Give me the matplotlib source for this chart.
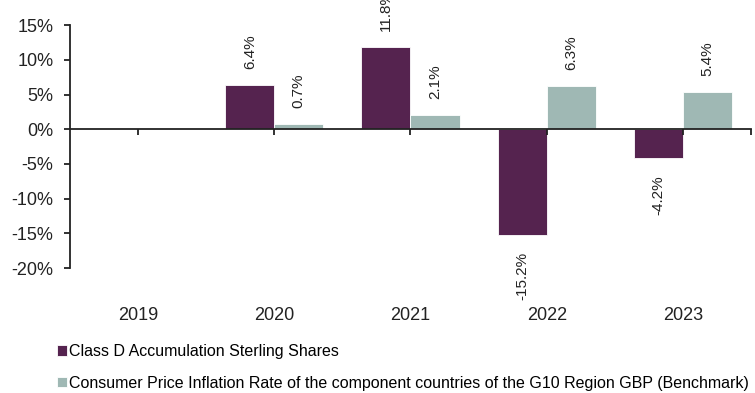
import matplotlib

matplotlib.use("Agg")
import matplotlib.pyplot as plt
import numpy as np

plt.rcParams["font.family"] = ["Liberation Sans", "DejaVu Sans"]

# Calendar-year returns (%)
years = ["2019", "2020", "2021", "2022", "2023"]
fund = [np.nan, 6.4, 11.8, -15.2, -4.2]
benchmark = [np.nan, 0.7, 2.1, 6.3, 5.4]
fund_name = "Class D Accumulation Sterling Shares"
bench_name = ("Consumer Price Inflation Rate of the component countries "
              "of the G10 Region GBP (Benchmark)")

PURPLE = "#55234f"
TEAL = "#9fb8b4"
INK = "#222222"

fig = plt.figure(figsize=(7.55, 3.93), dpi=100)
ax = fig.add_axes([0.0927, 0.318, 0.902, 0.618])

x = np.arange(len(years))
w = 0.36
b1 = ax.bar(x - w / 2, fund, w, color=PURPLE, edgecolor="white", linewidth=0.6, label=fund_name)
b2 = ax.bar(x + w / 2, benchmark, w, color=TEAL, edgecolor="white", linewidth=0.6, label=bench_name)

# rotated value labels above / below each bar
for bars, vals in ((b1, fund), (b2, benchmark)):
    for rect, v in zip(bars, vals):
        if np.isnan(v):
            continue
        cx = rect.get_x() + rect.get_width() / 2
        off = 11.5 if v >= 0 else -12
        ax.annotate(f"{v:.1f}%", (cx, v), xytext=(0, off), textcoords="offset points",
                    rotation=90, ha="center", va="bottom" if v >= 0 else "top",
                    fontsize=11, color=INK, annotation_clip=False)

ax.set_xlim(-0.5, len(years) - 0.5)
ax.set_ylim(-20, 15)
ax.set_yticks(np.arange(-20, 16, 5))
ax.set_yticklabels([f"{t}%" for t in range(-20, 16, 5)], fontsize=13, color=INK)

ax.spines[["top", "right"]].set_visible(False)
ax.spines["bottom"].set_position(("data", 0))
ax.spines["left"].set_linewidth(1.3)
ax.spines["bottom"].set_linewidth(1.3)
ax.spines["left"].set_color(INK)
ax.spines["bottom"].set_color(INK)
ax.set_xticks(list(x) + [len(years) - 0.5])
ax.set_xticklabels([])
ax.tick_params(axis="both", direction="out", length=4, width=1.3, color=INK)
ax.tick_params(axis="y", pad=8)

for xi, yr in zip(x, years):
    ax.text(xi, -0.195, yr, transform=ax.get_xaxis_transform(), ha="center", va="center",
            fontsize=13, color=INK)

ax.legend(loc="upper left", bbox_to_anchor=(0.075, 0.125), bbox_transform=fig.transFigure,
          frameon=False, fontsize=11.5, handlelength=0.65, handleheight=0.65,
          handletextpad=0.15, labelspacing=1.05, borderaxespad=0, borderpad=0)

fig.savefig("out.png", dpi=100, facecolor="white")
